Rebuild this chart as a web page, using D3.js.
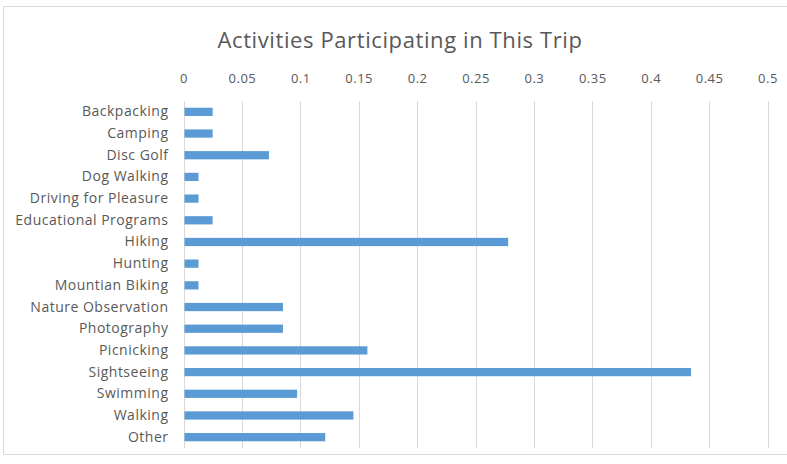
<!DOCTYPE html>
<html><head><meta charset="utf-8">
<script src="https://cdn.jsdelivr.net/npm/d3@7"></script>
<style>body{margin:0;background:#fff;} svg{display:block;}</style>
</head><body>
<svg id="chart" width="787" height="464"></svg>
<script>
const categories = ["Backpacking","Camping","Disc Golf","Dog Walking","Driving for Pleasure","Educational Programs","Hiking","Hunting","Mountian Biking","Nature Observation","Photography","Picnicking","Sightseeing","Swimming","Walking","Other"];
const values = [0.0241,0.0241,0.0723,0.012,0.012,0.0241,0.2771,0.012,0.012,0.0843,0.0843,0.1566,0.4337,0.0964,0.1446,0.1205];
const tickValues = [0,0.05,0.1,0.15,0.2,0.25,0.3,0.35,0.4,0.45,0.5];
const title = "Activities Participating in This Trip";

const svg = d3.select("#chart");
const font = "'Open Sans', sans-serif";
svg.append("rect").attr("x",3.5).attr("y",6.5).attr("width",790).attr("height",448)
  .attr("fill","#fff").attr("stroke","#d9d9d9");

const m = {left:183.5, right:767.5, top:101, bottom:448};
const x = d3.scaleLinear().domain([0,0.5]).range([m.left,m.right]);
const y = d3.scaleBand().domain(categories).range([m.top,m.bottom]).paddingInner(0.62).paddingOuter(0.31);

svg.append("text").attr("x",400).attr("y",48).attr("text-anchor","middle")
  .attr("font-family",font).attr("font-size",22).attr("letter-spacing",0.6)
  .attr("fill","#595959").text(title);

// gridlines
svg.append("g").selectAll("line").data(tickValues).join("line")
  .attr("x1",d=>Math.round(x(d))+0.5).attr("x2",d=>Math.round(x(d))+0.5)
  .attr("y1",m.top).attr("y2",m.bottom).attr("stroke","#d9d9d9").attr("stroke-width",1);

// top axis
const ax = svg.append("g").attr("transform",`translate(0,${m.top-18})`)
  .call(d3.axisTop(x).tickValues(tickValues).tickSize(0).tickPadding(0).tickFormat(d=>String(d)));
ax.select(".domain").remove();
ax.selectAll("text").attr("font-family",font).attr("font-size",13).attr("letter-spacing",0.5).attr("fill","#595959");

// category labels
const ay = svg.append("g").attr("transform",`translate(${m.left-15},0)`)
  .call(d3.axisLeft(y).tickSize(0).tickPadding(0));
ay.select(".domain").remove();
ay.selectAll("text").attr("font-family",font).attr("font-size",14).attr("letter-spacing",0.5).attr("fill","#595959");

// bars
svg.append("g").selectAll("rect").data(values).join("rect")
  .attr("x",x(0)+1).attr("y",(d,i)=>y(categories[i]))
  .attr("width",d=>x(d)-x(0)).attr("height",y.bandwidth())
  .attr("fill","#5b9bd5");
</script>
</body></html>
